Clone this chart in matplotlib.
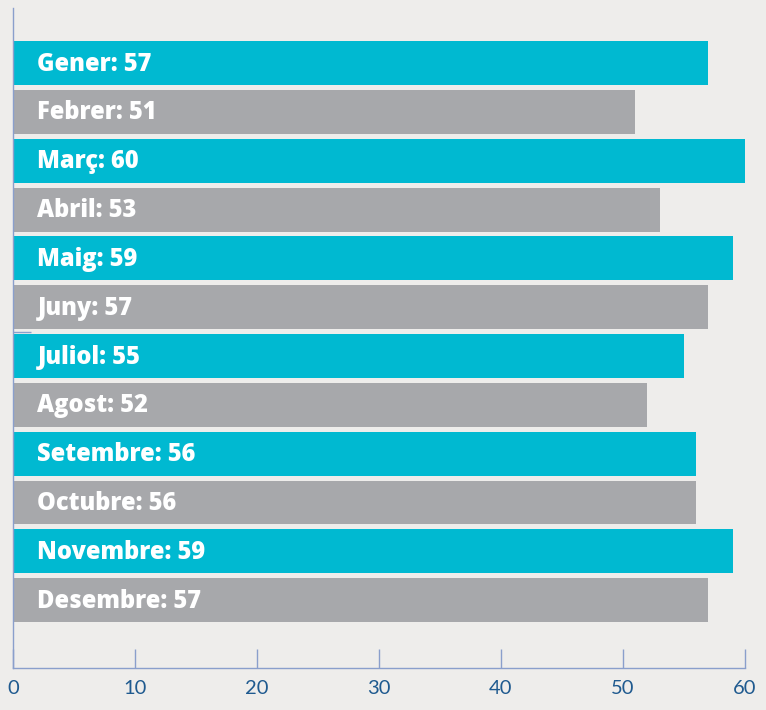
import matplotlib
matplotlib.use('Agg')
import matplotlib.pyplot as plt

# ─── DATA ────────────────────────────────────────────────────────────────────
months = ["Gener", "Febrer", "Març", "Abril", "Maig", "Juny", "Juliol",
          "Agost", "Setembre", "Octubre", "Novembre", "Desembre"]
values = [57, 51, 60, 53, 59, 57, 55, 52, 56, 56, 59, 57]
xticks = [0, 10, 20, 30, 40, 50, 60]

CYAN = '#00b9d1'
GREY = '#a7a8ab'
BG = '#eeedeb'
AXIS = '#8a9fcc'
TICKTXT = '#1f5a8f'

fig = plt.figure(figsize=(7.66, 7.10), dpi=100, facecolor=BG)
ax = fig.add_axes([13/766, 1 - 668/710, (745 - 13)/766, (668 - 8)/710])
ax.set_facecolor(BG)

pos = list(range(len(months)))
colors = [CYAN if i % 2 == 0 else GREY for i in pos]
ax.barh(pos, values, height=0.9, color=colors, zorder=2)

for i, (m, v) in enumerate(zip(months, values)):
    ax.text(2.0, i + 0.02, f"{m}: {v}", color='white', fontsize=17,
            fontweight='heavy', family='Open Sans', va='center', ha='left', zorder=3)

ax.set_xlim(0, 60)
ax.set_ylim(12.39, -1.13)
ax.set_xticks(xticks)
ax.set_xticklabels([str(t) for t in xticks], fontsize=14.5, color=TICKTXT,
                   family='Lato')
ax.set_yticks([5.5])
ax.set_yticklabels([])
ax.tick_params(axis='x', direction='in', length=13.5, width=1, color=AXIS, pad=9)
ax.tick_params(axis='y', direction='in', length=13, width=1, color=AXIS)

for s in ['top', 'right']:
    ax.spines[s].set_visible(False)
for s in ['left', 'bottom']:
    ax.spines[s].set_color(AXIS)
    ax.spines[s].set_linewidth(1)

fig.savefig('out.png', dpi=100, facecolor=BG)
